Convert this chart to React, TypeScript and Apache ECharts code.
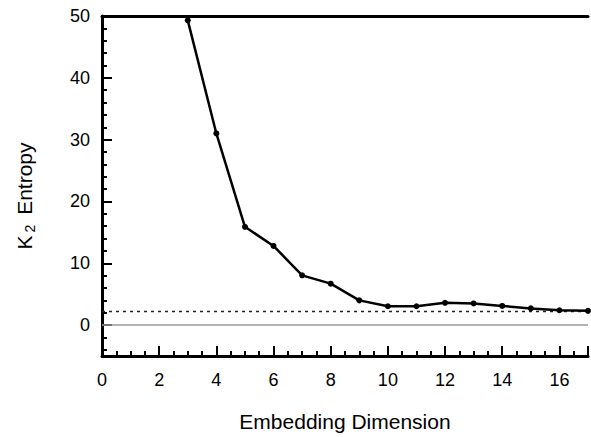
import React, { useEffect, useRef } from "react";
import * as echarts from "echarts";

const dimensions = [3, 4, 5, 6, 7, 8, 9, 10, 11, 12, 13, 14, 15, 16, 17];
const entropy = [49.3, 31.0, 15.9, 12.8, 8.05, 6.7, 4.0, 3.05, 3.05, 3.6, 3.5, 3.1, 2.7, 2.4, 2.3];
const referenceLevel = 2.2;
const zeroLevel = 0;
const yMajorTicks = [0, 10, 20, 30, 40, 50];
const yMinorTicks = [-4, -2, 2, 4, 6, 8, 12, 14, 16, 18, 22, 24, 26, 28, 32, 34, 36, 38, 42, 44, 46, 48];

const FONT = "Liberation Sans, Arial, Helvetica, sans-serif";

export default function App() {
  const ref = useRef<HTMLDivElement>(null);
  useEffect(() => {
    if (!ref.current) return;
    const chart = echarts.init(ref.current, null, { renderer: "svg" });
    const yBase = {
      type: "value",
      min: -5,
      max: 50,
      position: "left",
      splitLine: { show: false },
    };
    chart.setOption({
      animation: false,
      backgroundColor: "#ffffff",
      textStyle: { fontFamily: FONT },
      grid: { left: 102, right: -2, top: 16, bottom: 80, containLabel: false },
      xAxis: [
        {
          type: "value",
          min: 0,
          max: 17,
          interval: 2,
          position: "bottom",
          axisLine: { show: true, onZero: false, lineStyle: { color: "#000", width: 3 } },
          axisTick: { show: true, inside: true, length: 10, lineStyle: { color: "#000", width: 2 } },
          minorTick: { show: true, splitNumber: 4, length: 5, lineStyle: { color: "#000", width: 2 } },
          axisLabel: {
            color: "#000",
            fontSize: 18,
            fontFamily: FONT,
            margin: 15,
            formatter: (v: number) => (v % 2 === 0 && v <= 16 ? String(v) : ""),
          },
          splitLine: { show: false },
          name: "Embedding Dimension",
          nameLocation: "middle",
          nameGap: 55,
          nameTextStyle: { color: "#000", fontSize: 21, fontFamily: FONT },
        },
        {
          type: "value",
          min: 0,
          max: 17,
          position: "top",
          axisLine: { show: true, onZero: false, lineStyle: { color: "#000", width: 3 } },
          axisTick: { show: false },
          axisLabel: { show: false },
          splitLine: { show: false },
        },
      ],
      yAxis: [
        {
          ...yBase,
          axisLine: { show: true, onZero: false, lineStyle: { color: "#000", width: 3 } },
          axisTick: {
            show: true,
            inside: true,
            length: 10,
            customValues: yMajorTicks,
            lineStyle: { color: "#000", width: 2 },
          },
          axisLabel: {
            color: "#000",
            fontSize: 18,
            fontFamily: FONT,
            margin: 12,
            customValues: yMajorTicks,
          },
        },
        {
          ...yBase,
          axisLine: { show: false },
          axisTick: {
            show: true,
            inside: true,
            length: 5,
            customValues: yMinorTicks,
            lineStyle: { color: "#000", width: 2 },
          },
          axisLabel: { show: false },
        },
      ],
      graphic: [
        {
          type: "text",
          x: 24,
          y: 196,
          rotation: Math.PI / 2,
          style: {
            text: "{a|K}{s|2}{a| Entropy}",
            align: "center",
            verticalAlign: "middle",
            fill: "#000",
            rich: {
              a: { fontSize: 21, fontFamily: FONT, fill: "#000", lineHeight: 26, verticalAlign: "middle" },
              s: { fontSize: 14, fontFamily: FONT, fill: "#000", lineHeight: 14, verticalAlign: "bottom", padding: [0, 4, 0, 3] },
            },
          },
        },
      ],
      series: [
        {
          type: "line",
          data: dimensions.map((d, i) => [d, entropy[i]]),
          xAxisIndex: 0,
          yAxisIndex: 0,
          symbol: "circle",
          symbolSize: 6,
          itemStyle: { color: "#000" },
          lineStyle: { color: "#000", width: 2.5 },
          z: 5,
          markLine: {
            silent: true,
            symbol: "none",
            label: { show: false },
            data: [
              { yAxis: zeroLevel, lineStyle: { color: "#999", width: 1.5, type: "solid" } },
              { yAxis: referenceLevel, lineStyle: { color: "#222", width: 1.3, type: [3, 4] } },
            ],
          },
        },
      ],
    });
    return () => chart.dispose();
  }, []);
  return (
    <div
      ref={ref}
      style={{ position: "fixed", left: 0, top: 0, width: 591, height: 437, background: "#fff" }}
    />
  );
}
